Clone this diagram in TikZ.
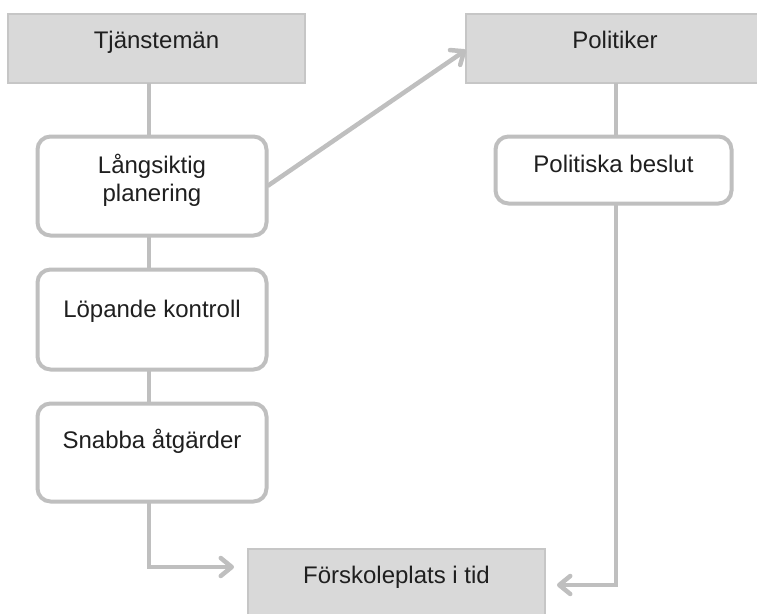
\documentclass[tikz,border=0pt]{standalone}
\usepackage{fontspec}
\setmainfont{Liberation Sans}
\usetikzlibrary{arrows.meta}
\definecolor{lineg}{HTML}{BFBFBF}
\definecolor{fillg}{HTML}{D9D9D9}
\definecolor{edgeg}{HTML}{C6C6C6}
\tikzset{
  graybox/.style={draw=edgeg, line width=1.2pt, fill=fillg, inner sep=0pt, outer sep=0pt},
  roundbox/.style={draw=lineg, line width=4pt, fill=white, rounded corners=13pt, inner sep=0pt, outer sep=0pt},
  txt/.style={font=\fontsize{24}{28}\selectfont, text=black!88, inner sep=0pt, align=center},
  conn/.style={draw=lineg, line width=4.5pt},
  arr/.style={conn, -{Straight Barb[length=11pt,width=18pt,line cap=round,line join=round]}}
}
\begin{document}
\begin{tikzpicture}[x=1pt,y=-1pt]
\useasboundingbox (0,0) rectangle (757,613);
\clip (0,0) rectangle (757,613);
% boxes
\node[graybox, minimum width=297, minimum height=69] (tj) at (156.5,48.5) {};
\node[graybox, minimum width=297, minimum height=69] (pol) at (614.5,48.5) {};
\node[roundbox, minimum width=229, minimum height=99] (lang) at (152,186) {};
\node[roundbox, minimum width=229, minimum height=100] (lop) at (152,319.5) {};
\node[roundbox, minimum width=229, minimum height=98] (sn) at (152,452.5) {};
\node[roundbox, minimum width=236, minimum height=67] (pb) at (613.5,170) {};
\node[graybox, minimum width=297, minimum height=72] (fk) at (396.5,585) {};
% texts
\node[txt, anchor=base] (tjt) at (156.5,48) {Tjänstemän};
\node[txt, anchor=base] (polt) at (615,48) {Politiker};
\node[txt, anchor=center] (langt) at (152,180.5) {Långsiktig\\planering};
\node[txt, anchor=base] (lopt) at (152,317) {Löpande kontroll};
\node[txt, anchor=base] (snt) at (152,448) {Snabba åtgärder};
\node[txt, anchor=base] (pbt) at (613.5,172) {Politiska beslut};
\node[txt, anchor=base] (fkt) at (396.5,583) {Förskoleplats i tid};
% helper coordinates
\coordinate (xl) at (149,0);
\coordinate (xr) at (616,0);
\coordinate (fkin) at (234,567);
\coordinate (fkin2) at (557,585);
% connectors
\draw[conn] (tj.south -| xl) -- (lang.north -| xl);
\draw[conn] (lang.south -| xl) -- (lop.north -| xl);
\draw[conn] (lop.south -| xl) -- (sn.north -| xl);
\draw[conn] (pol.south -| xr) -- (pb.north -| xr);
\draw[arr] ([xshift=1pt]lang.east) -- ([yshift=-1.5pt]pol.west);
\draw[arr, line join=miter] (sn.south -| xl) |- (fkin);
\draw[arr, line join=miter] (pb.south -| xr) |- (fkin2);
\end{tikzpicture}
\end{document}
